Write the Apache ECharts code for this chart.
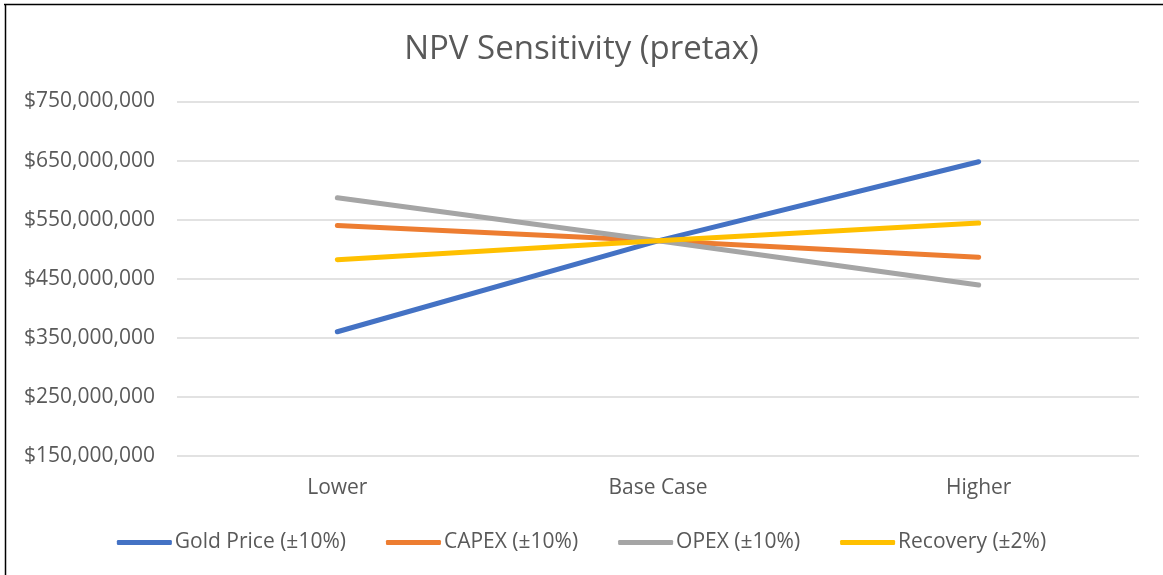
<!DOCTYPE html>
<html>
<head>
<meta charset="utf-8">
<script src="https://cdn.jsdelivr.net/npm/echarts@6/dist/echarts.min.js"></script>
<style>
html,body{margin:0;padding:0;background:#fff;}
#chart{width:1163px;height:575px;}
</style>
</head>
<body>
<div id="chart"></div>
<script>
const categories = ['Lower', 'Base Case', 'Higher'];
const goldPrice = [360000000, 514000000, 648000000];
const capex = [540000000, 514000000, 486000000];
const opex = [587000000, 514000000, 439000000];
const recovery = [482000000, 514000000, 544000000];
const seriesNames = ['Gold Price (±10%)', 'CAPEX (±10%)', 'OPEX (±10%)', 'Recovery (±2%)'];
const colors = ['#4472C4', '#ED7D31', '#A5A5A5', '#FFC000'];

const chart = echarts.init(document.getElementById('chart'));
const FONT = 'Open Sans';
function fmt(v){
  return '$' + String(v).replace(/\B(?=(\d{3})+(?!\d))/g, ',');
}
const seriesData = [goldPrice, capex, opex, recovery];
chart.setOption({
  backgroundColor: '#fff',
  textStyle: {fontFamily: FONT},
  title: {
    text: 'NPV Sensitivity (pretax)',
    left: 'center',
    top: 28,
    textStyle: {fontFamily: FONT, fontSize: 33, fontWeight: 'normal', color: '#595959'}
  },
  color: colors,
  legend: {
    bottom: 17,
    left: 'center',
    icon: 'roundRect',
    itemWidth: 55,
    itemHeight: 5,
    itemGap: 40,
    textStyle: {fontFamily: FONT, fontSize: 21, color: '#595959', padding: [0,0,0,-2]},
    data: seriesNames
  },
  grid: {left: 177, right: 24, top: 101.5, bottom: 119.3},
  xAxis: {
    type: 'category',
    data: categories,
    boundaryGap: true,
    axisLine: {show: false},
    axisTick: {show: false},
    axisLabel: {fontFamily: FONT, fontSize: 21, color: '#595959', margin: 22}
  },
  yAxis: {
    type: 'value',
    min: 150000000,
    max: 750000000,
    interval: 100000000,
    axisLine: {show: false},
    axisTick: {show: false},
    splitLine: {lineStyle: {color: '#D9D9D9', width: 1.5}},
    axisLabel: {fontFamily: FONT, fontSize: 21, color: '#595959', margin: 22, formatter: fmt}
  },
  series: seriesData.map((d, i) => ({
    name: seriesNames[i],
    type: 'line',
    data: d,
    symbol: 'none',
    lineStyle: {width: 5, color: colors[i], cap: 'round'},
    itemStyle: {color: colors[i]}
  })),
  graphic: [
    {type: 'line', shape: {x1: 4, y1: 4.5, x2: 1163, y2: 4.5}, style: {stroke: '#000', lineWidth: 1.5}},
    {type: 'line', shape: {x1: 5.5, y1: 4, x2: 5.5, y2: 575}, style: {stroke: '#000', lineWidth: 1.5}}
  ]
});
</script>
</body>
</html>
